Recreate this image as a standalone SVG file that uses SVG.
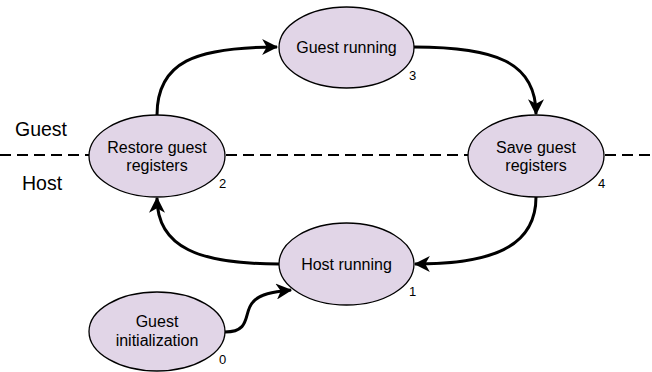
<svg xmlns="http://www.w3.org/2000/svg" width="652" height="372" viewBox="0 0 652 372">
<style>
.node ellipse{fill:#e1d5e7;stroke:#000;stroke-width:1.3}
.lbl{font-family:"Liberation Sans",Arial,sans-serif;font-size:16px;fill:#000;text-anchor:middle}
.num{font-family:"Liberation Sans",Arial,sans-serif;font-size:13px;fill:#000}
.side{font-family:"Liberation Sans",Arial,sans-serif;font-size:19.5px;fill:#000}
.conn path{fill:none;stroke:#000;stroke-width:3}
.dash{stroke:#000;stroke-width:2.2;stroke-dasharray:11 6;fill:none}
</style>
<defs>
<marker id="arr" markerUnits="userSpaceOnUse" markerWidth="16" markerHeight="16" viewBox="0 0 14 14" refX="13" refY="7" orient="auto">
<path d="M0,0 L14,7 L0,14 L4,7 z" fill="#000"/>
</marker>
</defs>
<g id="divider">
<line class="dash" x1="0" y1="155" x2="89" y2="155"/>
<line class="dash" x1="226" y1="155" x2="468" y2="155"/>
<line class="dash" x1="605" y1="155" x2="652" y2="155"/>
<text class="side" x="15" y="136">Guest</text>
<text class="side" x="22" y="190">Host</text>
</g>
<g class="conn" id="connectors">
<path d="M157,115 C157,62 195,47 277,47" marker-end="url(#arr)"/>
<path d="M414,47 C495,47 536,62 536,114" marker-end="url(#arr)"/>
<path d="M536,197 C536,248 490,264 415,264" marker-end="url(#arr)"/>
<path d="M279,264 C200,264 157,248 157,198" marker-end="url(#arr)"/>
<path d="M225,332 C252,332 243,312 253,302 C260,294 272,292 291,290" marker-end="url(#arr)"/>
</g>
<g id="guest-running" class="node">
<ellipse cx="346.5" cy="47.5" rx="67.5" ry="40.5"/>
<text class="lbl" x="346.5" y="53">Guest running</text>
<text class="num" x="409" y="80">3</text>
</g>
<g id="restore" class="node">
<ellipse cx="157" cy="156" rx="68" ry="41"/>
<text class="lbl" x="157" y="152.5">Restore guest</text>
<text class="lbl" x="157" y="170.5">registers</text>
<text class="num" x="219" y="188">2</text>
</g>
<g id="save" class="node">
<ellipse cx="536" cy="156" rx="68" ry="41"/>
<text class="lbl" x="536" y="152.5">Save guest</text>
<text class="lbl" x="536" y="170.5">registers</text>
<text class="num" x="598" y="188">4</text>
</g>
<g id="host-running" class="node">
<ellipse cx="346.5" cy="264" rx="67.5" ry="41"/>
<text class="lbl" x="346.5" y="270">Host running</text>
<text class="num" x="409" y="296">1</text>
</g>
<g id="guest-init" class="node">
<ellipse cx="157" cy="331.5" rx="68" ry="39.5"/>
<text class="lbl" x="157" y="327">Guest</text>
<text class="lbl" x="157" y="346">initialization</text>
<text class="num" x="219" y="364">0</text>
</g>
</svg>
